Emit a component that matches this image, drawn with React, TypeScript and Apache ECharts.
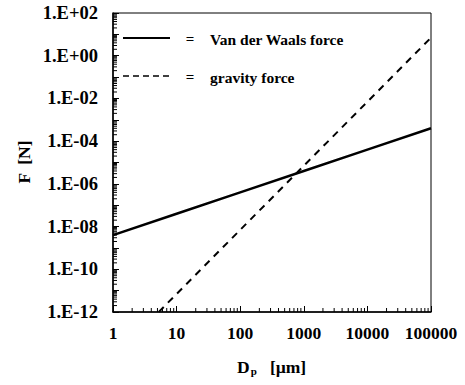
import React, { useEffect, useRef } from 'react';
import * as echarts from 'echarts';

// particle diameter D_p [µm]
const diameters = [1, 10, 100, 1000, 10000, 100000];
// forces [N]
const vanDerWaals = [4e-9, 4e-8, 4e-7, 4e-6, 4e-5, 4e-4];
const gravity = [7e-15, 7e-12, 7e-9, 7e-6, 7e-3, 7];

const yMin = 1e-12;
const yMax = 1e2;
const xMin = 1;
const xMax = 100000;
const yDecades = [-12, -11, -10, -9, -8, -7, -6, -5, -4, -3, -2, -1, 0, 1];
const xDecades = [0, 1, 2, 3, 4];
const minorMultipliers = [2, 3, 4, 5, 6, 7, 8, 9];

const FONT = 'Liberation Serif';

function fmtY(v: number): string {
  const e = Math.round(Math.log10(v));
  if (e % 2 !== 0) return '';
  const s = e < 0 ? '-' : '+';
  const a = Math.abs(e);
  return '1.E' + s + (a < 10 ? '0' + a : String(a));
}

export default function App() {
  const ref = useRef<HTMLDivElement>(null);
  useEffect(() => {
    document.body.style.margin = '0';
    if (!ref.current) return;
    const chart = echarts.init(ref.current, null, { renderer: 'svg' });
    const yMinor: number[][] = [];
    yDecades.forEach((d) => minorMultipliers.forEach((m) => yMinor.push([xMin, m * Math.pow(10, d)])));
    const xMinor: number[][] = [];
    xDecades.forEach((d) => minorMultipliers.forEach((m) => xMinor.push([m * Math.pow(10, d), yMin])));

    const tickRender = (horizontal: boolean) => (params: any, api: any) => {
      const p = api.coord([api.value(0), api.value(1)]);
      return {
        type: 'line',
        shape: horizontal
          ? { x1: p[0], y1: p[1], x2: p[0] + 4, y2: p[1] }
          : { x1: p[0], y1: p[1], x2: p[0], y2: p[1] - 4 },
        style: { stroke: '#000', lineWidth: 1 },
      };
    };

    chart.setOption({
      animation: false,
      backgroundColor: '#fff',
      grid: {
        left: 113,
        top: 13,
        right: 34,
        bottom: 73,
        show: true,
        borderColor: '#000',
        borderWidth: 1,
        backgroundColor: 'transparent',
      },
      xAxis: {
        type: 'log',
        logBase: 10,
        min: xMin,
        max: xMax,
        axisLine: { lineStyle: { color: '#000', width: 1.5 } },
        axisTick: { inside: true, length: 6, lineStyle: { color: '#000', width: 1 } },
        splitLine: { show: false },
        minorTick: { show: false },
        axisLabel: {
          color: '#000',
          fontFamily: FONT,
          fontWeight: 'bold',
          fontSize: 17.5,
          margin: 12,
          formatter: (v: number) => String(Math.round(v)),
        },
      },
      yAxis: {
        type: 'log',
        logBase: 10,
        min: yMin,
        max: yMax,
        interval: 1,
        axisLine: { lineStyle: { color: '#000', width: 1.5 } },
        axisTick: { inside: true, length: 6, lineStyle: { color: '#000', width: 1 } },
        splitLine: { show: false },
        minorTick: { show: false },
        axisLabel: {
          color: '#000',
          fontFamily: FONT,
          fontWeight: 'bold',
          fontSize: 18.5,
          margin: 15,
          formatter: fmtY,
        },
      },
      graphic: [
        {
          type: 'text',
          x: 24,
          y: 162,
          rotation: Math.PI / 2,
          style: {
            text: 'F  [N]',
            font: `bold 17.5px "${FONT}"`,
            fill: '#000',
            align: 'center',
            verticalAlign: 'middle',
          },
        },
        {
          type: 'text',
          x: 237,
          y: 367,
          style: {
            text: '{d|D}{s|p}{d|   [µm]}',
            fill: '#000',
            verticalAlign: 'middle',
            rich: {
              d: { font: `bold 17.5px "${FONT}"`, fill: '#000' },
              s: { font: `bold 11px "${FONT}"`, fill: '#000', padding: [8, 0, 0, 1] },
            },
          },
        },
        {
          type: 'line',
          shape: { x1: 123, y1: 38, x2: 170, y2: 38 },
          style: { stroke: '#000', lineWidth: 2.2 },
        },
        {
          type: 'line',
          shape: { x1: 123, y1: 76, x2: 170, y2: 76 },
          style: { stroke: '#000', lineWidth: 1.6, lineDash: [6, 4] },
        },
        {
          type: 'text',
          x: 190,
          y: 39,
          style: { text: '=', font: `bold 15px "${FONT}"`, fill: '#000', align: 'center', verticalAlign: 'middle' },
        },
        {
          type: 'text',
          x: 190,
          y: 77,
          style: { text: '=', font: `bold 15px "${FONT}"`, fill: '#000', align: 'center', verticalAlign: 'middle' },
        },
        {
          type: 'text',
          x: 210,
          y: 39,
          style: { text: 'Van der Waals force', font: `bold 15.5px "${FONT}"`, fill: '#000', verticalAlign: 'middle' },
        },
        {
          type: 'text',
          x: 210,
          y: 77,
          style: { text: 'gravity force', font: `bold 15.5px "${FONT}"`, fill: '#000', verticalAlign: 'middle' },
        },
      ],
      series: [
        {
          name: 'Van der Waals force',
          type: 'line',
          data: diameters.map((d, i) => [d, vanDerWaals[i]]),
          showSymbol: false,
          clip: true,
          lineStyle: { color: '#000', width: 2.5 },
        },
        {
          name: 'gravity force',
          type: 'line',
          data: diameters.map((d, i) => [d, gravity[i]]),
          showSymbol: false,
          clip: true,
          lineStyle: { color: '#000', width: 2, type: [7, 6] },
        },
        {
          type: 'custom',
          silent: true,
          clip: false,
          data: yMinor,
          renderItem: tickRender(true),
        },
        {
          type: 'custom',
          silent: true,
          clip: false,
          data: xMinor,
          renderItem: tickRender(false),
        },
      ],
    });
    return () => chart.dispose();
  }, []);
  return <div ref={ref} style={{ width: 465, height: 385 }} />;
}
